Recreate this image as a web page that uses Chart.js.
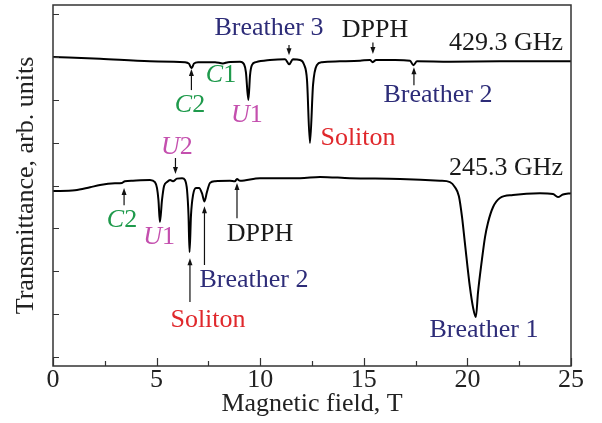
<!DOCTYPE html>
<html>
<head>
<meta charset="utf-8">
<script src="https://cdn.jsdelivr.net/npm/chart.js@4/dist/chart.umd.min.js"></script>
<style>
  body { margin: 0; background: #fff; }
</style>
</head>
<body>
<canvas id="chart" width="602" height="423"></canvas>
<script>
// spectrum at 429.3 GHz (upper trace)
const field429 = [0, 2.27, 4.68, 6.37, 6.56, 6.69, 6.80, 7.00, 7.82, 8.20, 8.45, 9.03, 9.22, 9.31, 9.43, 9.51, 9.60, 9.80, 10.47, 11.20,
  11.40, 11.58, 11.92, 12.11, 12.26, 12.40, 12.55, 12.73, 12.98, 13.85, 14.82, 15.30, 15.43, 15.59, 16.51, 17.23, 17.39, 17.57, 19.16, 21.57, 25];
const trans429 = [7.19, 7.15, 7.09, 7.07, 7.035, 6.93, 7.035, 7.07, 7.07, 7.04, 7.07, 7.08, 7.02, 6.84, 6.19, 6.77, 7.0, 7.07, 7.12, 7.14,
  7.02, 7.14, 7.12, 7.02, 6.65, 5.19, 6.54, 7.0, 7.07, 7.09, 7.105, 7.12, 7.07, 7.12, 7.12, 7.105, 7.0, 7.09, 7.08, 7.09, 7.09];

// spectrum at 245.3 GHz (lower trace)
const field245 = [0, 1.06, 1.79, 2.27, 2.99, 3.33, 3.47, 3.86, 4.68, 4.92, 5.02, 5.09, 5.16, 5.26, 5.36, 5.50, 5.65, 5.79, 5.98, 6.23,
  6.37, 6.47, 6.54, 6.59, 6.66, 6.76, 6.90, 7.05, 7.19, 7.31, 7.43, 7.58, 7.82, 8.54, 8.78, 8.88, 9.03, 9.99, 11.92, 12.89,
  14.33, 16.75, 18.68, 19.16, 19.40, 19.59, 19.74, 19.88, 20.12, 20.27, 20.41, 20.51, 20.70, 20.85, 20.99, 21.24, 21.57, 22.20, 23.50, 24.13,
  24.37, 24.61, 25];
const trans245 = [4.07, 4.09, 4.16, 4.21, 4.25, 4.26, 4.30, 4.31, 4.33, 4.28, 4.14, 3.86, 3.35, 3.86, 4.19, 4.28, 4.33, 4.30, 4.36, 4.37,
  4.33, 4.09, 3.51, 2.65, 3.51, 3.98, 4.14, 4.14, 4.02, 3.83, 4.05, 4.26, 4.30, 4.31, 4.30, 4.35, 4.31, 4.37, 4.37, 4.40,
  4.37, 4.35, 4.31, 4.28, 4.16, 3.95, 3.47, 2.86, 1.84, 1.37, 1.14, 1.70, 2.47, 3.0, 3.33, 3.70, 3.91, 3.98, 4.02, 4.0,
  3.93, 3.99, 4.02];

const xTickValues = [0, 2.5, 5, 7.5, 10, 12.5, 15, 17.5, 20, 22.5, 25];
const yTickValues = [0.2, 1.2, 2.2, 3.2, 4.2, 5.2, 6.2, 7.2, 8.2];

const BLUE = '#2d2c78', RED = '#e0282c', GREEN = '#1f9a4c', MAGENTA = '#c44fae', BLACK = '#1a1a1a';
const FONT = '"Liberation Serif", "Times New Roman", serif';
const FSIZE = 26;

// labels: parts are [text, italic]
const notes = [
  { parts: [['Breather 3']], x: 10.42, y: 7.86, color: BLUE },
  { parts: [['DPPH']], x: 15.54, y: 7.81, color: BLACK },
  { parts: [['429.3 GHz']], x: 21.86, y: 7.51, color: BLACK },
  { parts: [['Breather 2']], x: 18.58, y: 6.30, color: BLUE },
  { parts: [['Soliton']], x: 14.72, y: 5.30, color: RED },
  { parts: [['C', true], ['1']], x: 8.11, y: 6.77, color: GREEN },
  { parts: [['C', true], ['2']], x: 6.61, y: 6.07, color: GREEN },
  { parts: [['U', true], ['1']], x: 9.36, y: 5.84, color: MAGENTA },
  { parts: [['U', true], ['2']], x: 5.98, y: 5.09, color: MAGENTA },
  { parts: [['245.3 GHz']], x: 21.86, y: 4.60, color: BLACK },
  { parts: [['C', true], ['2']], x: 3.33, y: 3.40, color: GREEN },
  { parts: [['U', true], ['1']], x: 5.12, y: 3.00, color: MAGENTA },
  { parts: [['DPPH']], x: 9.99, y: 3.07, color: BLACK },
  { parts: [['Breather 2']], x: 9.70, y: 2.00, color: BLUE },
  { parts: [['Soliton']], x: 7.48, y: 1.07, color: RED },
  { parts: [['Breather 1']], x: 20.80, y: 0.84, color: BLUE }
];

// arrows: from tail to head, in data units
const arrows = [
  { x: 11.39, from: 7.47, to: 7.23 },
  { x: 15.44, from: 7.53, to: 7.26 },
  { x: 17.42, from: 6.53, to: 6.95 },
  { x: 6.68, from: 6.42, to: 6.91 },
  { x: 5.91, from: 4.84, to: 4.47 },
  { x: 3.43, from: 3.74, to: 4.14 },
  { x: 8.88, from: 3.44, to: 4.26 },
  { x: 7.31, from: 2.35, to: 3.72 },
  { x: 6.61, from: 1.49, to: 2.51 }
];

const toPoints = (xs, ys) => xs.map((x, i) => ({ x: x, y: ys[i] }));

const decorations = {
  id: 'decorations',
  afterDraw(chart) {
    const ctx = chart.ctx;
    const area = chart.chartArea;
    const xs = chart.scales.x, ys = chart.scales.y;
    ctx.save();

    // frame
    ctx.strokeStyle = '#333';
    ctx.lineWidth = 1.5;
    ctx.strokeRect(area.left, area.top, area.right - area.left, area.bottom - area.top);

    // inward ticks
    ctx.lineWidth = 1.2;
    ctx.beginPath();
    xTickValues.forEach(v => {
      const px = Math.round(xs.getPixelForValue(v)) + 0.5;
      const len = v % 5 === 0 ? 8 : 5;
      ctx.moveTo(px, area.bottom);
      ctx.lineTo(px, area.bottom - len);
    });
    yTickValues.forEach(v => {
      const py = Math.round(ys.getPixelForValue(v)) + 0.5;
      ctx.moveTo(area.left, py);
      ctx.lineTo(area.left + 6, py);
    });
    ctx.stroke();

    // arrows
    ctx.strokeStyle = '#111';
    ctx.fillStyle = '#111';
    ctx.lineWidth = 1.2;
    arrows.forEach(a => {
      const px = xs.getPixelForValue(a.x);
      const p0 = ys.getPixelForValue(a.from);
      const p1 = ys.getPixelForValue(a.to);
      const dir = p1 > p0 ? 1 : -1;
      ctx.beginPath();
      ctx.moveTo(px, p0);
      ctx.lineTo(px, p1 - dir * 5);
      ctx.stroke();
      ctx.beginPath();
      ctx.moveTo(px, p1);
      ctx.lineTo(px - 2.5, p1 - dir * 7);
      ctx.lineTo(px + 2.5, p1 - dir * 7);
      ctx.closePath();
      ctx.fill();
    });

    // text labels
    ctx.textBaseline = 'middle';
    ctx.textAlign = 'left';
    notes.forEach(n => {
      const fonts = n.parts.map(p => (p[1] ? 'italic ' : '') + FSIZE + 'px ' + FONT);
      let total = 0;
      const widths = n.parts.map((p, i) => { ctx.font = fonts[i]; const w = ctx.measureText(p[0]).width; total += w; return w; });
      let cx = xs.getPixelForValue(n.x) - total / 2;
      const cy = ys.getPixelForValue(n.y);
      ctx.fillStyle = n.color;
      n.parts.forEach((p, i) => {
        ctx.font = fonts[i];
        ctx.fillText(p[0], cx, cy);
        cx += widths[i];
      });
    });
    ctx.restore();
  }
};

new Chart(document.getElementById('chart'), {
  type: 'line',
  data: {
    datasets: [
      { label: '429.3 GHz', data: toPoints(field429, trans429) },
      { label: '245.3 GHz', data: toPoints(field245, trans245) }
    ]
  },
  options: {
    responsive: false,
    animation: false,
    devicePixelRatio: 1,
    layout: { padding: { top: 5, right: 31, left: 0, bottom: 0 } },
    elements: {
      line: { borderColor: '#000', borderWidth: 2, cubicInterpolationMode: 'monotone', fill: false },
      point: { radius: 0 }
    },
    plugins: { legend: { display: false }, tooltip: { enabled: false } },
    scales: {
      x: {
        type: 'linear',
        min: 0, max: 25,
        afterBuildTicks: s => { s.ticks = xTickValues.map(v => ({ value: v })); },
        afterFit: s => { s.height = 57; },
        grid: { display: false, drawTicks: false },
        border: { display: false },
        ticks: {
          autoSkip: false, maxRotation: 0, padding: 0, color: '#222',
          font: { family: FONT, size: FSIZE, lineHeight: 1.1 },
          callback: v => (v % 5 === 0 ? String(v) : '')
        },
        title: {
          display: true, text: 'Magnetic field, T', color: '#222',
          font: { family: FONT, size: FSIZE }, padding: { top: 0, bottom: 3 }
        }
      },
      y: {
        type: 'linear',
        min: 0, max: 8.4,
        afterBuildTicks: s => { s.ticks = yTickValues.map(v => ({ value: v })); },
        afterFit: s => { s.width = 53; },
        grid: { display: false, drawTicks: false },
        border: { display: false },
        ticks: { display: false },
        title: {
          display: true, text: 'Transmittance, arb. units', color: '#222',
          font: { family: FONT, size: FSIZE }, padding: { top: 11, bottom: 0 }
        }
      }
    }
  },
  plugins: [decorations]
});
</script>
</body>
</html>
